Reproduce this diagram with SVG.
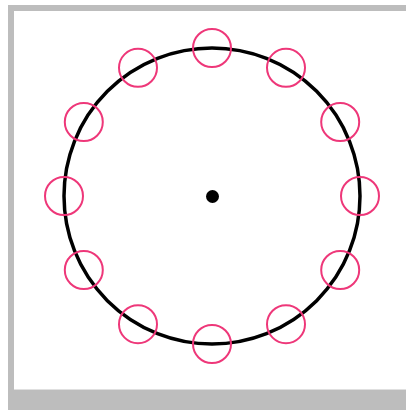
<svg xmlns="http://www.w3.org/2000/svg" width="406" height="410" viewBox="0 0 406 410">
<style>
.s{fill:none;stroke:#ee3779;stroke-width:2}
</style>
<rect x="0" y="0" width="406" height="410" fill="#fff"/>
<rect x="8" y="5" width="398" height="405" fill="#bdbdbd"/>
<rect x="14" y="11" width="392" height="379" fill="#fff"/>
<line x1="14" y1="389.5" x2="406" y2="389.5" stroke="#e0e0e0" stroke-width="1"/>
<g id="ring"><circle cx="212" cy="196" r="148" fill="none" stroke="#000" stroke-width="3.5"/></g>
<g id="center"><circle cx="212.5" cy="196.5" r="6.5" fill="#000"/></g>
<g id="nodes">
<circle class="s" cx="212" cy="48" r="19"/>
<circle class="s" cx="286" cy="67.8" r="19"/>
<circle class="s" cx="340.2" cy="122" r="19"/>
<circle class="s" cx="360" cy="196" r="19"/>
<circle class="s" cx="340.2" cy="270" r="19"/>
<circle class="s" cx="286" cy="324.2" r="19"/>
<circle class="s" cx="212" cy="344" r="19"/>
<circle class="s" cx="138" cy="324.2" r="19"/>
<circle class="s" cx="83.8" cy="270" r="19"/>
<circle class="s" cx="64" cy="196" r="19"/>
<circle class="s" cx="83.8" cy="122" r="19"/>
<circle class="s" cx="138" cy="67.8" r="19"/>
</g>
</svg>
